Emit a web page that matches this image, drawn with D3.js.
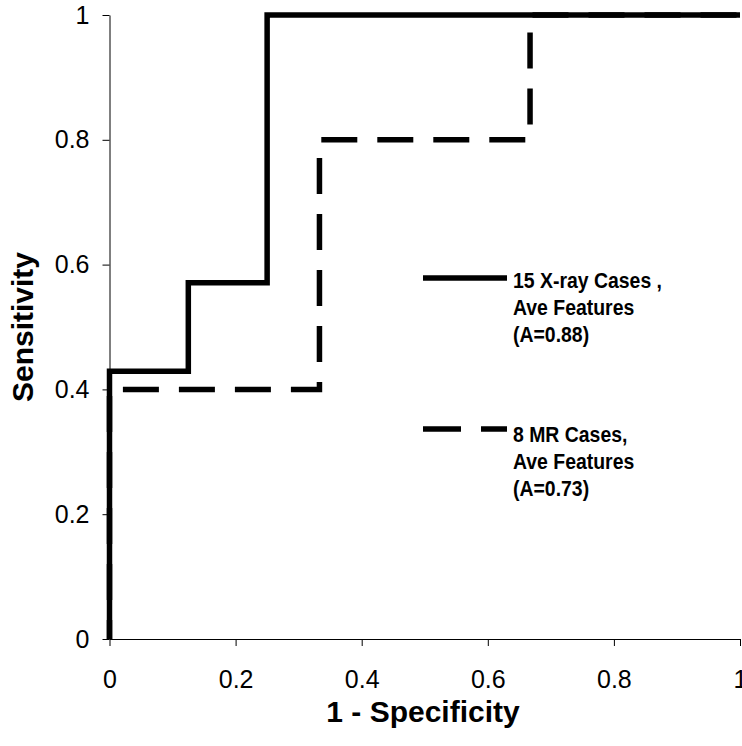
<!DOCTYPE html>
<html lang="en">
    <head>
        <meta charset="UTF-8" />
        <title>ROC curves</title>
        <style>
            body {
                margin: 0;
                background: #fff;
            }
            .tick text {
                font: 25px "Liberation Sans", Arial, sans-serif;
                fill: #000;
            }
            .axisTitle {
                font: bold 30px "Liberation Sans", Arial, sans-serif;
                fill: #000;
            }
            .legendText {
                font: bold 22px "Liberation Sans", Arial, sans-serif;
                fill: #000;
            }
            .curve {
                fill: none;
                stroke: #000;
                stroke-width: 5.5px;
            }
        </style>
    </head>
    <body>
        <script src="https://cdnjs.cloudflare.com/ajax/libs/d3/7.9.0/d3.min.js"></script>
        <svg width="742" height="746"></svg>
        <script>
            // ROC points (1 - specificity, sensitivity)
            const xrayFPR = [0, 0, 0.125, 0.125, 0.25, 0.25, 1];
            const xraySens = [0, 0.429, 0.429, 0.571, 0.571, 1, 1];
            const mrFPR = [0, 0, 0.333, 0.333, 0.667, 0.667, 1];
            const mrSens = [0, 0.4, 0.4, 0.8, 0.8, 1, 1];

            const tickValues = [0, 0.2, 0.4, 0.6, 0.8, 1];
            const tickLabels = ["0", "0.2", "0.4", "0.6", "0.8", "1"];
            const xrayLabel = ["15 X-ray Cases ,", "Ave Features", "(A=0.88)"];
            const mrLabel = ["8 MR Cases,", "Ave Features", "(A=0.73)"];

            const svg = d3.select("svg");
            const x = d3.scaleLinear().domain([0, 1]).range([109.5, 740]);
            const y = d3.scaleLinear().domain([0, 1]).range([639, 15]);

            const fmt = (d) => tickLabels[tickValues.indexOf(d)];

            svg.append("g")
                .attr("transform", "translate(0," + y(0) + ")")
                .call(d3.axisBottom(x).tickValues(tickValues).tickFormat(fmt).tickSize(7).tickSizeOuter(0).tickPadding(24));

            svg.append("g")
                .attr("transform", "translate(" + x(0) + ",0)")
                .call(d3.axisLeft(y).tickValues(tickValues).tickFormat(fmt).tickSize(7).tickSizeOuter(0).tickPadding(13));

            svg.selectAll(".domain, .tick line").attr("stroke", "#000");

            const line = d3
                .line()
                .x((d) => x(d[0]))
                .y((d) => y(d[1]));

            const xrayPts = xrayFPR.map((v, i) => [v, xraySens[i]]);
            const mrPts = mrFPR.map((v, i) => [v, mrSens[i]]);

            svg.append("path").attr("class", "curve").attr("d", line(xrayPts));
            svg.append("path")
                .attr("class", "curve")
                .attr("d", line(mrPts))
                .attr("stroke-dasharray", "36,20")
                .attr("stroke-dashoffset", 17);

            // axis titles
            svg.append("text")
                .attr("class", "axisTitle")
                .attr("x", 423)
                .attr("y", 722)
                .attr("text-anchor", "middle")
                .text("1 - Specificity");

            svg.append("text")
                .attr("class", "axisTitle")
                .attr("transform", "translate(33,327) rotate(-90)")
                .attr("text-anchor", "middle")
                .text("Sensitivity");

            // legend (narrow bold font: squeeze a regular bold face horizontally)
            const legend = [
                { lineY: 278, textY: 288, dash: null, label: xrayLabel },
                { lineY: 429, textY: 442, dash: "38,20", label: mrLabel },
            ];
            let squeeze = 1;
            legend.forEach((l, li) => {
                svg.append("line")
                    .attr("class", "curve")
                    .attr("x1", 423)
                    .attr("x2", 507)
                    .attr("y1", l.lineY)
                    .attr("y2", l.lineY)
                    .attr("stroke-dasharray", l.dash);
                l.label.forEach((t, i) => {
                    const txt = svg.append("text").attr("class", "legendText").attr("x", 0).attr("y", 0).text(t);
                    if (li === 0 && i === 0) squeeze = 149 / txt.node().getComputedTextLength();
                    txt.attr("transform", "translate(513," + (l.textY + i * 27) + ") scale(" + squeeze + ",1)");
                });
            });
        </script>
    </body>
</html>
